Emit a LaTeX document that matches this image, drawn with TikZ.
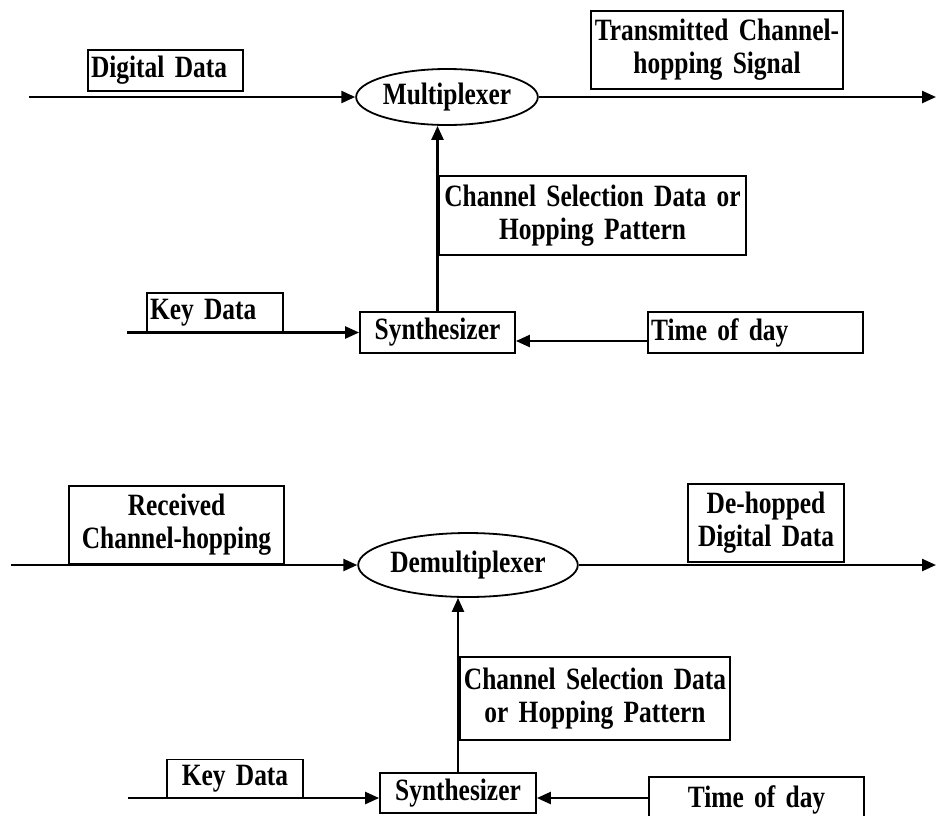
\documentclass[tikz,border=0pt]{standalone}
\usepackage{fontspec}
\setmainfont[FakeStretch=0.82,WordSpace=0.75]{Liberation Serif}
\usetikzlibrary{arrows.meta,shapes.geometric,calc}
\begin{document}
\begin{tikzpicture}[x=1pt,y=-1pt,
  font=\fontsize{31}{33}\selectfont\bfseries,
  box/.style={draw, line width=1.8pt, inner xsep=3pt, inner ysep=0pt, align=center},
  oval/.style={draw, ellipse, line width=1.8pt, inner sep=0pt},
  arr/.style={line width=2.4pt, -{Triangle[length=14pt,width=12pt]}}]
\useasboundingbox (0,0) rectangle (936,815);
\clip (0,0) rectangle (936,815);
% ---------- transmitter ----------
\node[box, text width=149pt, minimum height=41pt, align=left] (dd) at (165.5,70.5) {Digital Data};
\node[box, text width=246pt, minimum height=78pt] (tx) at (717,50) {Transmitted Channel-\\hopping Signal};
\node[oval, minimum width=172pt, minimum height=56pt] (mux) at (447,97) {Multiplexer};
\node[box, text width=301pt, minimum height=79pt] (cs1) at (592.5,215.5) {Channel Selection Data or\\Hopping Pattern};
\node[box, text width=130pt, minimum height=40pt, align=left] (kd1) at (215,313) {Key Data};
\node[box, text width=149pt, minimum height=41pt] (sy1) at (437.5,332.5) {Synthesizer};
\node[box, text width=209pt, minimum height=41pt, align=left] (td1) at (755.5,332.5) {Time of day};
\coordinate (in1) at (29,97);
\coordinate (rightedge) at (936,0);
\coordinate (kin1) at (127,332.5);
\coordinate (y341) at (0,341);
\draw[arr] (in1) -- (mux.west);
\draw[arr] (mux.east) -- (mux.east -| rightedge);
\draw[arr] (sy1.north) -- (sy1.north |- mux.south);
\draw[arr] (kin1) -- (sy1.west);
\draw[arr] (td1.west |- y341) -- (sy1.east |- y341);
% ---------- receiver ----------
\node[box, text width=209pt, minimum height=78pt] (rx) at (176.5,525) {Received\\Channel-hopping};
\node[oval, minimum width=212pt, minimum height=64pt] (dmx) at (468,565) {Demultiplexer};
\node[box, text width=150pt, minimum height=78pt] (dh) at (766,523) {De-hopped\\Digital Data};
\node[box, text width=264pt, minimum height=83pt] (cs2) at (595,698.5) {Channel Selection Data\\or Hopping Pattern};
\node[box, text width=130pt, minimum height=38pt] (kd2) at (235,778.5) {Key Data};
\node[box, text width=150pt, minimum height=40pt] (sy2) at (458,793) {Synthesizer};
\node[box, text width=209pt, minimum height=46pt] (td2) at (756.5,800) {Time of day};
\coordinate (in2) at (11,565);
\coordinate (kin2) at (128,798);
\coordinate (y798) at (0,798);
\draw[arr] (in2) -- (dmx.west);
\draw[arr] (dmx.east) -- (dmx.east -| rightedge);
\draw[arr] (sy2.north) -- (sy2.north |- dmx.south);
\draw[arr] (kin2) -- (sy2.west |- y798);
\draw[arr] (td2.west |- y798) -- (sy2.east |- y798);
\end{tikzpicture}
\end{document}
